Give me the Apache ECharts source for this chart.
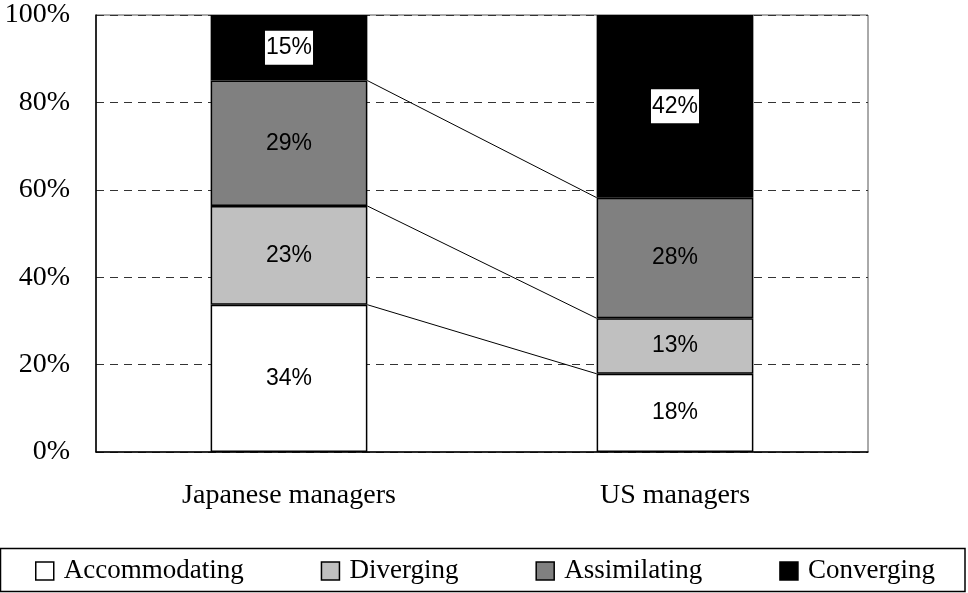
<!DOCTYPE html>
<html lang="en">
<head>
    <meta charset="UTF-8">
    <title>Learning styles</title>
    <script src="https://cdn.jsdelivr.net/npm/echarts@6/dist/echarts.min.js"></script>
    <style>
        html, body { margin: 0; padding: 0; background: #fff; }
        #main { width: 968px; height: 593px; }
    </style>
</head>
<body>
<div id="main"></div>
<script type="text/javascript">

    // data (percent of each group)
    var groups = ['Japanese managers', 'US managers']
    var styles = ['Accommodating', 'Diverging', 'Assimilating', 'Converging']
    var accommodating = [33.7, 17.9]
    var diverging = [22.6, 12.7]
    var assimilating = [28.7, 27.6]
    var converging = [15.0, 41.8]
    var yTicks = [0, 20, 40, 60, 80, 100]

    var fills = ['#ffffff', '#c0c0c0', '#808080', '#000000']
    var serif = '"Liberation Serif", "Times New Roman", serif'
    var sans = '"Liberation Sans", Arial, sans-serif'
    var barRatio = 0.406

    var values = [accommodating, diverging, assimilating, converging]

    // cumulative tops of the first three segments, for the connecting lines
    var links = []
    var cumJ = 0, cumU = 0
    for (var i = 0; i < 3; i++) {
        cumJ += values[i][0]
        cumU += values[i][1]
        links.push([0, cumJ, cumU])
    }

    var series = []
    for (var i = 0; i < styles.length; i++) {
        var dark = i === 3
        series.push({
            name: styles[i],
            type: 'bar',
            stack: 'all',
            barWidth: (barRatio * 100) + '%',
            data: values[i],
            itemStyle: { color: fills[i], borderColor: '#000', borderWidth: 1.5 },
            label: {
                show: true,
                position: 'inside',
                formatter: function (p) { return Math.round(p.value) + '%' },
                fontFamily: sans,
                fontSize: 23,
                color: '#000',
                backgroundColor: dark ? '#fff' : 'transparent',
                padding: dark ? [6, 1, 5, 1] : 0
            },
            emphasis: { disabled: true }
        })
    }

    series.push({
        type: 'custom',
        silent: true,
        z: 5,
        encode: { x: 0, y: 1 },
        data: links,
        renderItem: function (params, api) {
            var p0 = api.coord([0, api.value(1)])
            var p1 = api.coord([1, api.value(2)])
            var hw = api.size([1, 0])[0] * barRatio / 2
            return {
                type: 'line',
                shape: { x1: p0[0] + hw, y1: p0[1], x2: p1[0] - hw, y2: p1[1] },
                style: { stroke: '#000', lineWidth: 1 }
            }
        }
    })

    var myChart = echarts.init(document.getElementById('main'))

    var option = {
        animation: false,
        grid: {
            left: 96, right: 100, top: 15, bottom: 141,
            show: true, borderColor: '#555', borderWidth: 1
        },
        legend: {
            data: styles,
            left: 35,
            top: 556,
            padding: 0,
            itemWidth: 18,
            itemHeight: 18,
            itemGap: 77,
            icon: 'rect',
            selectedMode: false,
            itemStyle: { borderColor: '#000', borderWidth: 1.5 },
            textStyle: {
                fontFamily: serif, fontSize: 27, color: '#000',
                lineHeight: 30, padding: [0, 0, 0, 5]
            }
        },
        graphic: [{
            type: 'rect',
            silent: true,
            shape: { x: 0.5, y: 548.5, width: 964.5, height: 43 },
            style: { fill: 'none', stroke: '#000', lineWidth: 1.5 }
        }],
        xAxis: {
            type: 'category',
            data: groups,
            axisLine: { lineStyle: { color: '#000', width: 1.5 } },
            axisTick: { inside: true, length: 10, interval: 0, lineStyle: { color: '#000' } },
            axisLabel: { fontFamily: serif, fontSize: 28, color: '#000', margin: 30 }
        },
        yAxis: {
            type: 'value',
            min: yTicks[0],
            max: yTicks[yTicks.length - 1],
            interval: yTicks[1] - yTicks[0],
            axisLine: { show: true, lineStyle: { color: '#000', width: 1.5 } },
            axisTick: { show: false },
            axisLabel: { fontFamily: serif, fontSize: 28, color: '#000', margin: 26, formatter: '{value}%' },
            splitLine: { lineStyle: { color: '#333', type: [8, 6], width: 1 } }
        },
        series: series
    }

    myChart.setOption(option)

</script>
</body>
</html>
